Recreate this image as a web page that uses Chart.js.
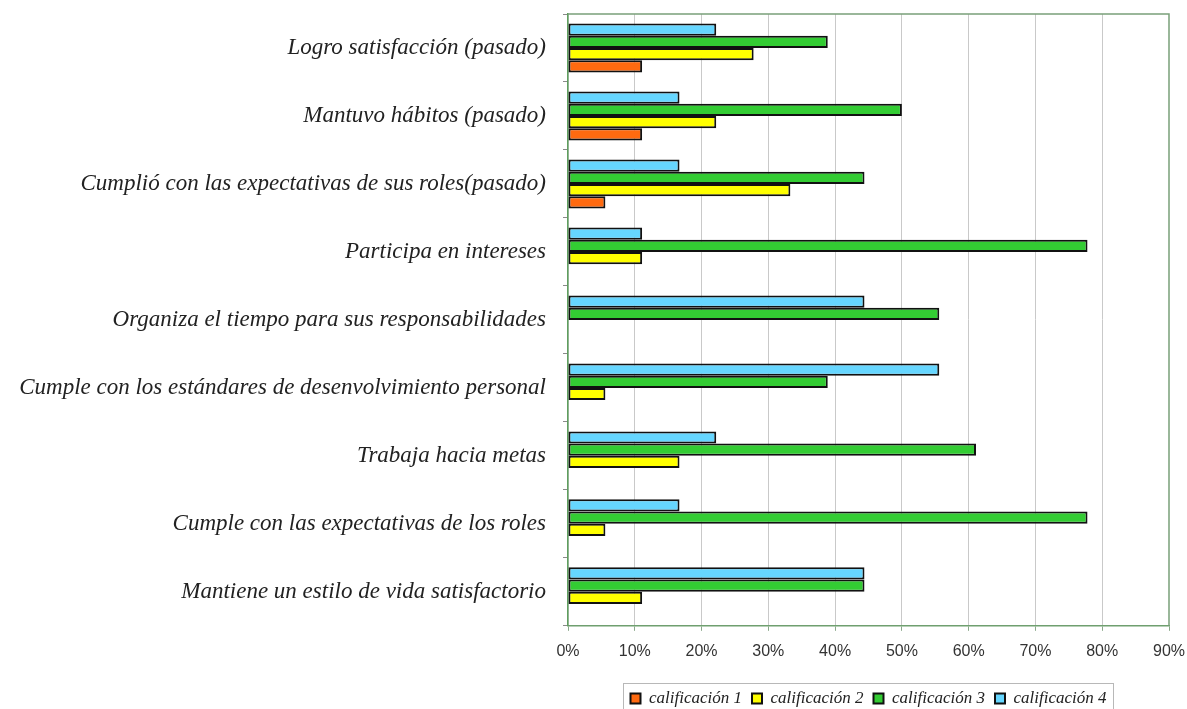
<!DOCTYPE html>
<html>
<head>
<meta charset="utf-8">
<script src="https://cdn.jsdelivr.net/npm/chart.js@4.4.1/dist/chart.umd.min.js"></script>
<style>
html,body{margin:0;padding:0;background:#fff;}
#wrap{width:1187px;height:709px;position:relative;}
</style>
</head>
<body>
<div id="wrap"><canvas id="c" width="1187" height="709"></canvas></div>
<script>
const categories = [
  "Logro satisfacción (pasado)",
  "Mantuvo hábitos (pasado)",
  "Cumplió con las expectativas de sus roles(pasado)",
  "Participa en intereses",
  "Organiza el tiempo para sus responsabilidades",
  "Cumple con los estándares de desenvolvimiento personal",
  "Trabaja hacia metas",
  "Cumple con las expectativas de los roles",
  "Mantiene un estilo de vida satisfactorio"
];
const calificacion1 = [11.1, 11.1, 5.6, 0, 0, 0, 0, 0, 0];
const calificacion2 = [27.8, 22.2, 33.3, 11.1, 0, 5.6, 16.7, 5.6, 11.1];
const calificacion3 = [38.9, 50.0, 44.4, 77.8, 55.6, 38.9, 61.1, 77.8, 44.4];
const calificacion4 = [22.2, 16.7, 16.7, 11.1, 44.4, 55.6, 22.2, 16.7, 44.4];
const seriesNames = ["calificación 1", "calificación 2", "calificación 3", "calificación 4"];
const xTicks = [0, 10, 20, 30, 40, 50, 60, 70, 80, 90];

const colors = ["#ff6a10", "#ffff00", "#33cc33", "#66d6ff"];

const mk = (i, data) => ({
  label: seriesNames[i],
  data: data,
  backgroundColor: colors[i],
  borderColor: "#111",
  borderWidth: 2,
  borderSkipped: false,
  categoryPercentage: 0.72,
  barPercentage: 1.0
});

const plugins = [{
  id: "deco",
  afterLayout(chart) {
    const lg = chart.legend, a = chart.chartArea;
    if (lg && a) {
      const shift = (a.left + a.right) / 2 - (lg.left + lg.right) / 2;
      lg.left += shift; lg.right += shift;
      lg.top += 8; lg.bottom += 8;
    }
  },
  beforeDatasetsDraw(chart) {
    const a = chart.chartArea, ctx = chart.ctx;
    ctx.save();
    ctx.strokeStyle = "#7aa07a";
    ctx.lineWidth = 1.5;
    ctx.beginPath();
    ctx.moveTo(a.left, a.top); ctx.lineTo(a.right, a.top); ctx.lineTo(a.right, a.bottom);
    ctx.stroke();
    ctx.restore();
  },
  afterDraw(chart) {
    const hb = chart.legend && chart.legend.legendHitBoxes;
    if (!hb || !hb.length) return;
    const ctx = chart.ctx;
    let l = Infinity, r = -Infinity, t = Infinity;
    hb.forEach(h => { l = Math.min(l, h.left); r = Math.max(r, h.left + h.width); t = Math.min(t, h.top); });
    ctx.save();
    ctx.strokeStyle = "#b8b8b8";
    ctx.lineWidth = 1;
    const x0 = Math.round(l - 7) + 0.5, y0 = Math.round(t - 7) + 0.5;
    ctx.strokeRect(x0, y0, Math.round(r - l + 14), chart.height - y0 + 2);
    ctx.restore();
  }
}];

new Chart(document.getElementById("c"), {
  type: "bar",
  data: {
    labels: categories,
    datasets: [mk(3, calificacion4), mk(2, calificacion3), mk(1, calificacion2), mk(0, calificacion1)]
  },
  options: {
    indexAxis: "y",
    responsive: false,
    animation: false,
    layout: { padding: { top: 14, right: 18, bottom: 0, left: 0 } },
    scales: {
      x: {
        min: 0, max: 90,
        afterBuildTicks(s) { s.ticks = xTicks.map(v => ({ value: v })); },
        afterFit(s) { s.paddingLeft = 0; s.paddingRight = 0; },
        ticks: {
          callback: v => v + "%",
          color: "#333",
          padding: 11,
          font: { family: "Liberation Sans", size: 16 }
        },
        grid: {
          color: ctx => (ctx.tick && ctx.tick.value === 90) ? "rgba(0,0,0,0)" : "#c9c9c9",
          tickColor: "#8aa88a",
          tickLength: 5,
          lineWidth: 1
        },
        border: { color: "#6f9f6f", width: 1.5 }
      },
      y: {
        afterFit(s) { s.width = 568; s.paddingTop = 0; s.paddingBottom = 0; },
        ticks: {
          color: "#222",
          padding: 17,
          font: { family: "Liberation Serif", size: 23, style: "italic" }
        },
        grid: {
          drawOnChartArea: false,
          offset: true,
          tickLength: 5,
          tickColor: "#8a8a8a"
        },
        border: { color: "#5f9f5f", width: 1.5 }
      }
    },
    plugins: {
      legend: {
        position: "bottom",
        reverse: true,
        labels: {
          boxWidth: 10,
          boxHeight: 10,
          padding: 10,
          color: "#222",
          font: { family: "Liberation Serif", size: 17, style: "italic" },
          generateLabels(chart) {
            return chart.data.datasets.map((d, i) => ({
              text: d.label,
              fillStyle: d.backgroundColor,
              strokeStyle: "#111",
              lineWidth: 2,
              hidden: false,
              datasetIndex: i,
              fontColor: "#222"
            }));
          }
        }
      },
      tooltip: { enabled: false }
    }
  },
  plugins: plugins
});
</script>
</body>
</html>
